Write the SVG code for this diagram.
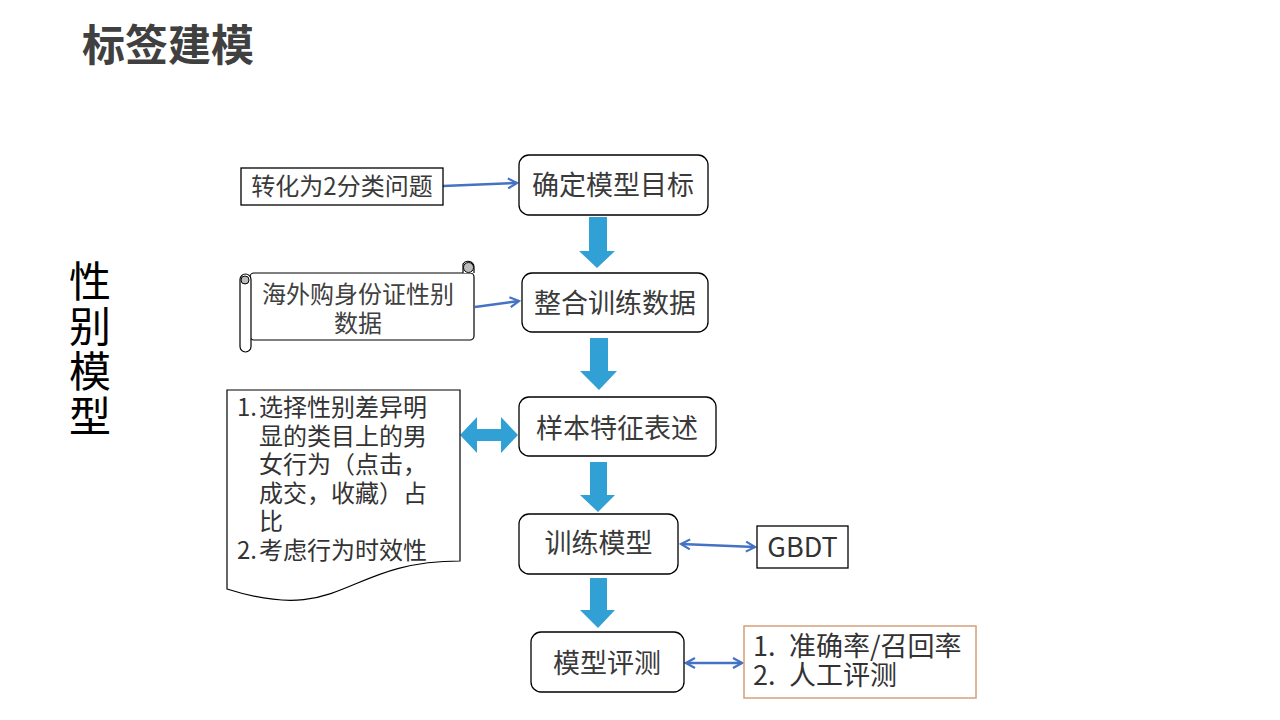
<svg xmlns="http://www.w3.org/2000/svg" width="1280" height="720" viewBox="0 0 1280 720">
<style>
text{font-family:"Microsoft YaHei","Noto Sans CJK SC","Noto Sans",sans-serif;fill:#3a3a3a}
.node{fill:#fff;stroke:#000;stroke-width:1.3}
.box{fill:#fff;stroke:#000;stroke-width:1.3}
.blk{fill:#30A0D5}
.thin{fill:none;stroke:#4472C4;stroke-width:2.5}
.nt{font-size:27px;text-anchor:middle}
</style>
<defs>
<marker id="ah" viewBox="0 0 12 12" refX="10" refY="6" markerWidth="12" markerHeight="12" markerUnits="userSpaceOnUse" orient="auto-start-reverse">
<path d="M1,1 L10,6 L1,11" fill="none" stroke="#4472C4" stroke-width="2.2" stroke-linejoin="miter"/>
</marker>
</defs>
<rect width="1280" height="720" fill="#fff"/>
<g id="title"><text x="82" y="61" style="font-size:43px;font-weight:bold;fill:#404040">标签建模</text></g>
<g id="side-title"><text x="90" y="260" style="font-size:42px;fill:#000;writing-mode:vertical-rl;letter-spacing:3px">性别模型</text></g>

<g id="connectors">
<path class="thin" d="M443,186 L517,183" marker-end="url(#ah)"/>
<path class="thin" d="M475,307 L519,301" marker-end="url(#ah)"/>
<path class="thin" d="M681,544 L755,547" marker-start="url(#ah)" marker-end="url(#ah)"/>
<path class="thin" d="M686,663 L742,663" marker-start="url(#ah)" marker-end="url(#ah)"/>
<polygon class="blk" points="589,217 607,217 607,251 615,251 597,268 579,251 589,251"/>
<polygon class="blk" points="590,338 608,338 608,371 617,371 599,390 580,371 590,371"/>
<polygon class="blk" points="590,462 607,462 607,495 615,495 598,512 580,495 590,495"/>
<polygon class="blk" points="590,578 607,578 607,610 615,610 598,628 580,610 590,610"/>
<polygon class="blk" points="460,435 477,417 477,429 501,429 501,417 518,435 501,453 501,441 477,441 477,453"/>
</g>

<g id="n1"><rect class="node" x="519" y="155" width="189" height="60" rx="10"/><text class="nt" x="613" y="195">确定模型目标</text></g>
<g id="n2"><rect class="node" x="522" y="273" width="186" height="59" rx="10"/><text class="nt" x="615" y="313">整合训练数据</text></g>
<g id="n3"><rect class="node" x="519" y="397" width="197" height="59" rx="10"/><text class="nt" x="617" y="438">样本特征表述</text></g>
<g id="n4"><rect class="node" x="519" y="514" width="159" height="60" rx="10"/><text class="nt" x="598.5" y="553">训练模型</text></g>
<g id="n5"><rect class="node" x="531" y="632" width="153" height="60" rx="10"/><text class="nt" x="607" y="673">模型评测</text></g>

<g id="binary"><rect class="box" x="241" y="168" width="202" height="37"/><text x="342" y="195" style="font-size:24px;text-anchor:middle">转化为2分类问题</text></g>

<g id="scroll">
<rect x="250" y="273" width="224" height="67" rx="4" fill="#fff" stroke="#000" stroke-width="1.2"/>
<path d="M463,273 V264 a6,6 0 0 1 11,3 V273" fill="#fff" stroke="#000" stroke-width="1.2"/>
<circle cx="468.5" cy="267.5" r="5" fill="#bdbdbd" stroke="#000" stroke-width="1"/>
<rect x="240" y="274" width="11" height="78" rx="5.5" fill="#fff" stroke="#000" stroke-width="1.2"/>
<circle cx="245" cy="280" r="4" fill="#bdbdbd" stroke="#000" stroke-width="1"/>
<text style="font-size:24px;text-anchor:middle;fill:#404040"><tspan x="358" y="303">海外购身份证性别</tspan><tspan x="358" y="332">数据</tspan></text>
</g>

<g id="features">
<path d="M227,390 H460 V561 C343.5,561 343.5,626 227,589 Z" fill="#fff" stroke="#000" stroke-width="1.2"/>
<text style="font-size:24px;fill:#333">
<tspan x="237" y="416">1.</tspan><tspan x="259" y="416">选择性别差异明</tspan>
<tspan x="259" y="444.5">显的类目上的男</tspan>
<tspan x="259" y="473">女行为（点击，</tspan>
<tspan x="259" y="501.5">成交，收藏）占</tspan>
<tspan x="259" y="530">比</tspan>
<tspan x="237" y="558.5">2.</tspan><tspan x="259" y="558.5">考虑行为时效性</tspan>
</text>
</g>

<g id="gbdt"><rect class="box" x="757" y="526" width="91" height="42"/><text x="802.5" y="557" style="font-size:27px;text-anchor:middle;fill:#333">GBDT</text></g>

<g id="metrics">
<rect x="744" y="626" width="232" height="72" fill="#fff" stroke="#D4A07A" stroke-width="1.5"/>
<text style="font-size:27px;fill:#333"><tspan x="753" y="656">1.</tspan><tspan x="789" y="656">准确率/召回率</tspan><tspan x="753" y="685">2.</tspan><tspan x="789" y="685">人工评测</tspan></text>
</g>
</svg>
